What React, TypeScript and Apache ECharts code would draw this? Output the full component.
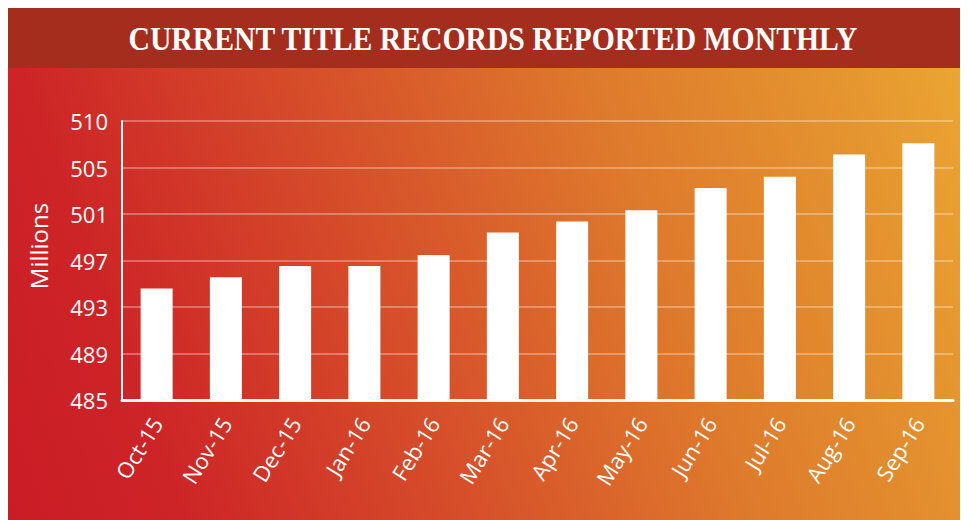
import React, { useEffect, useRef } from "react";
import * as echarts from "echarts";

const titleText = "CURRENT TITLE RECORDS REPORTED MONTHLY";
const months = [
  "Oct-15", "Nov-15", "Dec-15", "Jan-16", "Feb-16", "Mar-16",
  "Apr-16", "May-16", "Jun-16", "Jul-16", "Aug-16", "Sep-16",
];
const records = [495, 496, 497, 497, 498, 500, 501, 502, 504, 505, 507, 508];
const yMin = 485;
const yMax = 510;
const yTickLabels = ["485", "489", "493", "497", "501", "505", "510"];
const yAxisName = "Millions";

export default function App() {
  const ref = useRef<HTMLDivElement>(null);

  useEffect(() => {
    if (!ref.current) return;
    const chart = echarts.init(ref.current, null, { renderer: "svg" });
    const font = "'Open Sans', 'Noto Sans', sans-serif";
    chart.setOption({
      animation: false,
      backgroundColor: "transparent",
      graphic: [
        {
          type: "rect",
          z: -10,
          shape: { x: 0, y: 0, width: 960, height: 60 },
          style: { fill: "#a52d1e" },
        },
        {
          type: "text",
          x: 485,
          y: 31,
          scaleX: 0.9,
          style: {
            text: titleText,
            fill: "#ffffff",
            font: "bold 33px 'Liberation Serif', 'DejaVu Serif', serif",
            align: "center",
            verticalAlign: "middle",
            textAlign: "center",
            textVerticalAlign: "middle",
          },
        },
        {
          type: "text",
          x: 30,
          y: 238,
          rotation: Math.PI / 2,
          style: {
            text: yAxisName,
            fill: "#ffffff",
            font: "24px 'Open Sans', 'Noto Sans', sans-serif",
            align: "center",
            verticalAlign: "middle",
            textAlign: "center",
            textVerticalAlign: "middle",
          },
        },
      ],
      grid: { left: 114, right: 15, top: 113, bottom: 120, containLabel: false },
      xAxis: {
        type: "category",
        data: months,
        axisLine: { show: true, lineStyle: { color: "#ffffff", width: 3 } },
        axisTick: { show: false },
        axisLabel: {
          color: "#ffffff",
          fontFamily: font,
          fontSize: 22,
          rotate: 58,
          margin: 19,
        },
      },
      yAxis: [
        {
          type: "value",
          min: yMin,
          max: yMax,
          position: "left",
          axisLabel: { show: false },
          axisTick: { show: false },
          splitLine: { show: false },
          axisLine: { show: true, lineStyle: { color: "#ffffff", width: 2 } },
        },
        {
          type: "value",
          min: 0,
          max: yTickLabels.length - 1,
          interval: 1,
          position: "left",
          axisLabel: {
            color: "#ffffff",
            fontFamily: font,
            fontSize: 22,
            margin: 14,
            formatter: (v: number) => yTickLabels[Math.round(v)] ?? "",
          },
          axisTick: { show: false },
          axisLine: { show: false },
          splitLine: {
            show: true,
            lineStyle: { color: "rgba(255,255,255,0.3)", width: 2 },
          },
        },
      ],
      series: [
        {
          type: "bar",
          yAxisIndex: 0,
          data: records,
          barWidth: 32,
          itemStyle: { color: "#ffffff" },
        },
      ],
    });
    return () => chart.dispose();
  }, []);

  return (
    <div
      ref={ref}
      style={{
        width: 960,
        height: 512,
        background:
          "linear-gradient(70deg, #ca1c26 0%, #cd2427 15%, #d64e2a 40%, #de7a2c 65%, #e4932f 85%, #eca932 100%)",
      }}
    />
  );
}
